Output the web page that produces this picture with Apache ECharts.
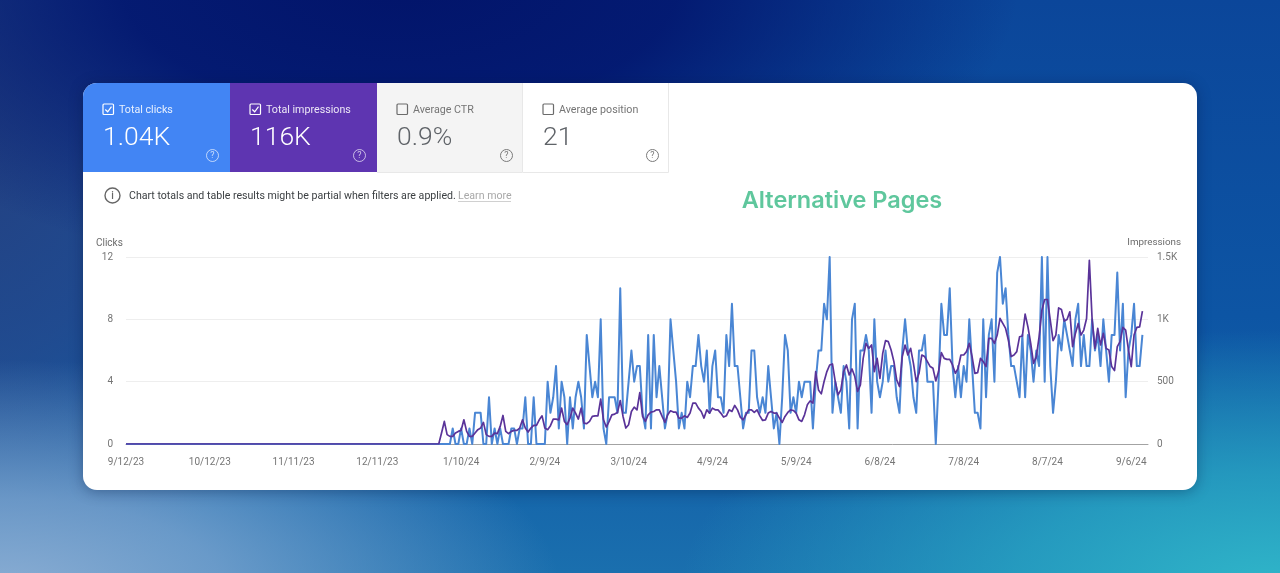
<!DOCTYPE html>
<html><head><meta charset="utf-8">
<script src="https://cdn.jsdelivr.net/npm/echarts@6/dist/echarts.min.js"></script>
<style>
html,body{margin:0;padding:0;width:1280px;height:573px;overflow:hidden;
background:
 radial-gradient(ellipse 560px 230px at 0px 590px,#8aadd3 0%,rgba(125,165,208,.8) 40%,rgba(60,110,175,0) 100%),
 radial-gradient(ellipse 600px 260px at 1280px 590px,#30b6c9 0%,rgba(40,165,195,.8) 45%,rgba(25,110,170,0) 100%),
 radial-gradient(ellipse 620px 300px at 400px -20px,#02146a 0%,rgba(3,24,112,.95) 45%,rgba(10,60,140,0) 100%),
 radial-gradient(ellipse 420px 500px at -60px 120px,#24407f 0%,rgba(40,70,135,.7) 50%,rgba(20,70,150,0) 100%),
 linear-gradient(180deg,#0b469a 0%,#0d55a4 55%,#1a6fae 100%);}
#c{position:absolute;left:0;top:0;width:1280px;height:573px}
</style></head><body><div id="c"></div>
<script>
const FIRST_DAY = new Date(2023, 8, 12);
const TOTAL_AXIS_DAYS = 367;
const tiles = [
  {label:'Total clicks', value:'1.04K', fill:'#4285f4', checked:true},
  {label:'Total impressions', value:'116K', fill:'#5e35b1', checked:true},
  {label:'Average CTR', value:'0.9%', fill:'#f4f4f4', checked:false},
  {label:'Average position', value:'21', fill:'#ffffff', checked:false}
];
const noticeText = 'Chart totals and table results might be partial when filters are applied.';
const noticeLink = 'Learn more';
const titleText = 'Alternative Pages';
const clicksTicks = [0,4,8,12];
const impressionTicks = [0,500,1000,1500];

const clicksBefore = [0,0,0,0,0,0,0,0,0,0,0,0,0,0,0,0,0,0,0,0,0,0,0,0,0,0,0,0,0,0,0,0,0,0,0,0,0,0,0,0,0,0,0,0,0,0,0,0,0,0,0,0,0,0,0,0,0,0,0,0,0,0,0,0,0,0,0,0,0,0,0,0,0,0,0,0,0,0,0,0,0,0,0,0,0,0,0,0,0,0,0,0,0,0,0,0,0,0,0,0,0,0,0,0,0,0,0,0,0,0,0,0];
const clicksEarly = [0,0,0,0,0,1,0,0,1,0,0,1,0,2,2,2,0,0,3,0,1,0,1,0,0,0,1,1,0,1,1,3,0,0,3,0,0,0,0,4,2,3,5,1,4,3,0,3,1,3,4,3,1,7,5,3,4,3,8,1,0,3,3,3,2,10,2,2,4,6,4,5,5,2,1,7,1,7,3,5,3,1,2,8,6,4];
const clicksMiddle = [1,2,1,4,3,5,5,7,5,4,6,2,5,6,3,3,2,7,5,9,5,5,3,1,2,2,6,6,3,2,3,2,5,3,1,2,0,3,7,6,2,3,2,4,3,4,4,4,1,4,6,6,9,8,12,2,4,3,2,5,4,1,8,9,1,6,6,7,6,2,8,4,3,4,6,4,5,5,3,2,6,8,6,5,3,2];
const clicksLate = [6,6,7,4,4,4,0,4,9,7,7,10,5,3,5,3,5,4,8,5,2,2,1,8,3,7,8,4,11,12,9,10,7,5,5,4,3,7,3,7,6,4,6,5,12,4,12,5,2,4,7,6,8,7,6,5,8,9,5,7,5,5,8,6,7,5,8,6,4,7,7,11,6,9,3,6,7,9,5,5,7];

const impressionsBefore = clicksBefore.slice();
const impressionsEarly = [0,88,181,75,61,61,88,101,109,194,101,61,61,88,115,128,173,75,61,61,88,83,141,229,101,83,101,109,109,128,194,128,96,128,149,149,194,226,128,115,147,200,200,194,288,181,155,208,288,248,200,288,168,163,181,221,226,226,360,194,136,181,234,240,253,349,221,128,155,261,296,274,413,221,181,234,256,261,274,274,221,173,234,266,256,256,208];
const impressionsMiddle = [208,226,213,248,328,328,288,261,208,274,248,288,274,274,248,216,226,274,261,309,274,216,194,234,274,274,253,274,226,189,194,248,261,248,248,208,173,221,253,274,269,248,194,181,234,314,346,328,581,434,402,501,581,634,642,501,394,434,581,634,554,602,541,421,474,687,807,767,794,581,687,527,727,829,821,754,661,514,461,701,794,714,767,647,501,567];
const impressionsLate = [714,701,661,621,607,506,581,733,687,679,679,634,567,607,714,714,741,807,701,567,573,687,661,621,847,847,807,874,1007,967,927,834,701,714,741,860,866,1042,940,807,647,701,860,1074,1159,1159,994,829,874,1092,1079,986,999,1060,781,887,967,874,914,1007,1473,994,767,927,794,887,767,754,621,589,781,821,935,914,754,621,874,935,940,1066];

const clicks = clicksBefore.concat(clicksEarly, clicksMiddle, clicksLate);
const impressions = impressionsBefore.concat(impressionsEarly, impressionsMiddle, impressionsLate);

const days = [];
for (let i = 0; i < TOTAL_AXIS_DAYS; i++) {
  const d = new Date(FIRST_DAY.getFullYear(), FIRST_DAY.getMonth(), FIRST_DAY.getDate() + i);
  days.push((d.getMonth()+1)+'/'+d.getDate()+'/'+String(d.getFullYear()).slice(2));
}

const FONT = 'Roboto, "Noto Sans", sans-serif';
const g = [];
g.push({type:'rect',z:0,shape:{x:83,y:83,width:1114,height:407,r:14},
  style:{fill:'#fff',shadowBlur:14,shadowColor:'rgba(0,20,60,.35)',shadowOffsetY:2}});
const tileX = [83,230,377,523], tileW = [147,147,146,146];
tiles.forEach((t,i)=>{
  const x = tileX[i], w = tileW[i], on = t.checked;
  g.push({type:'rect',z:1,shape:{x:x,y:83,width:w,height:89,r:i===0?[14,0,0,0]:0},style:{fill:t.fill}});
  if(!on){
    g.push({type:'polyline',z:2,shape:{points:[[x+w-.5,83],[x+w-.5,172.5],[x,172.5]]},style:{fill:null,stroke:'#e8e8e8',lineWidth:1}});
  }
  const tc = on?'#ffffff':'#6b6b6b';
  g.push({type:'rect',z:3,shape:{x:x+20,y:104,width:10.5,height:10.5,r:1},style:{fill:null,stroke:tc,lineWidth:1.2}});
  if(on) g.push({type:'polyline',z:3,shape:{points:[[x+22.3,109.5],[x+24.7,111.8],[x+28.5,106.6]]},style:{fill:null,stroke:tc,lineWidth:1.2}});
  g.push({type:'text',z:3,style:{x:x+36,y:110,text:t.label,font:'10.7px '+FONT,fill:on?'rgba(255,255,255,.88)':'#757575',textVerticalAlign:'middle'}});
  g.push({type:'text',z:3,style:{x:x+20,y:138.5,text:t.value,font:'300 26.5px '+FONT,fill:on?'#fff':'#5f6368',textVerticalAlign:'middle'}});
  g.push({type:'circle',z:3,shape:{cx:x+129.5,cy:155.5,r:6},style:{fill:null,stroke:on?'rgba(255,255,255,.65)':'#7a7a7a',lineWidth:1}});
  g.push({type:'text',z:3,style:{x:x+129.5,y:156,text:'?',font:'9px '+FONT,fill:on?'rgba(255,255,255,.7)':'#7a7a7a',textAlign:'center',textVerticalAlign:'middle'}});
});
g.push({type:'circle',z:3,shape:{cx:112.5,cy:195.5,r:7.5},style:{fill:null,stroke:'#666',lineWidth:1.4}});
g.push({type:'text',z:3,style:{x:112.5,y:196,text:'i',font:'500 10px '+FONT,fill:'#666',textAlign:'center',textVerticalAlign:'middle'}});
g.push({type:'text',z:3,style:{x:129,y:196,text:noticeText,font:'10.6px '+FONT,fill:'#3c4043',textVerticalAlign:'middle'}});
g.push({type:'text',z:3,style:{x:458,y:196,text:noticeLink,font:'10.6px '+FONT,fill:'#a8a8a8',textVerticalAlign:'middle'}});
g.push({type:'line',z:3,shape:{x1:458,y1:201.5,x2:511,y2:201.5},style:{stroke:'#c4c4c4',lineWidth:.8}});
g.push({type:'text',z:3,style:{x:842,y:200.5,text:titleText,font:'600 23.5px Inter, Roboto, sans-serif',fill:'#5fc79d',textAlign:'center',textVerticalAlign:'middle'}});

const chart = echarts.init(document.getElementById('c'), null, {renderer:'canvas'});
chart.setOption({
  backgroundColor:'transparent',
  animation:false,
  graphic:{elements:g},
  grid:{left:126,right:132,top:257,bottom:129,containLabel:false},
  xAxis:{type:'category',data:days,boundaryGap:false,
    axisLine:{show:true,lineStyle:{color:'#a3a3a3',width:1}},axisTick:{show:false},
    splitLine:{show:false},
    axisLabel:{interval:(i)=>i%30===0,color:'#757575',fontFamily:FONT,fontSize:10,margin:13,hideOverlap:false}},
  yAxis:[
    {type:'value',min:clicksTicks[0],max:clicksTicks[3],interval:4,name:'Clicks',nameLocation:'end',
     nameGap:9,nameTextStyle:{color:'#6b6b6b',fontFamily:FONT,fontSize:10,align:'left',padding:[0,0,0,-30]},
     axisLine:{show:false},axisTick:{show:false},
     axisLabel:{color:'#757575',fontFamily:FONT,fontSize:10,margin:13,padding:[4,0,0,0]},
     splitLine:{lineStyle:{color:'#eeeeee',width:1}}},
    {type:'value',min:impressionTicks[0],max:impressionTicks[3],interval:500,name:'Impressions',nameLocation:'end',
     nameGap:9,nameTextStyle:{color:'#6b6b6b',fontFamily:FONT,fontSize:9.8,align:'right',padding:[0,-33,0,0]},
     axisLine:{show:false},axisTick:{show:false},
     axisLabel:{color:'#757575',fontFamily:FONT,fontSize:10,margin:9,padding:[4,0,0,0],
       formatter:v=>v>=1000?(v/1000)+'K':String(v)},
     splitLine:{show:false}}
  ],
  series:[
    {name:'Total clicks',type:'line',yAxisIndex:0,data:clicks,showSymbol:false,symbol:'none',z:3,
     lineStyle:{color:'#4a86d4',width:2,join:'round'}},
    {name:'Total impressions',type:'line',yAxisIndex:1,data:impressions,showSymbol:false,symbol:'none',z:4,
     lineStyle:{color:'#5a3399',width:1.7,join:'round'}}
  ]
});
</script></body></html>
